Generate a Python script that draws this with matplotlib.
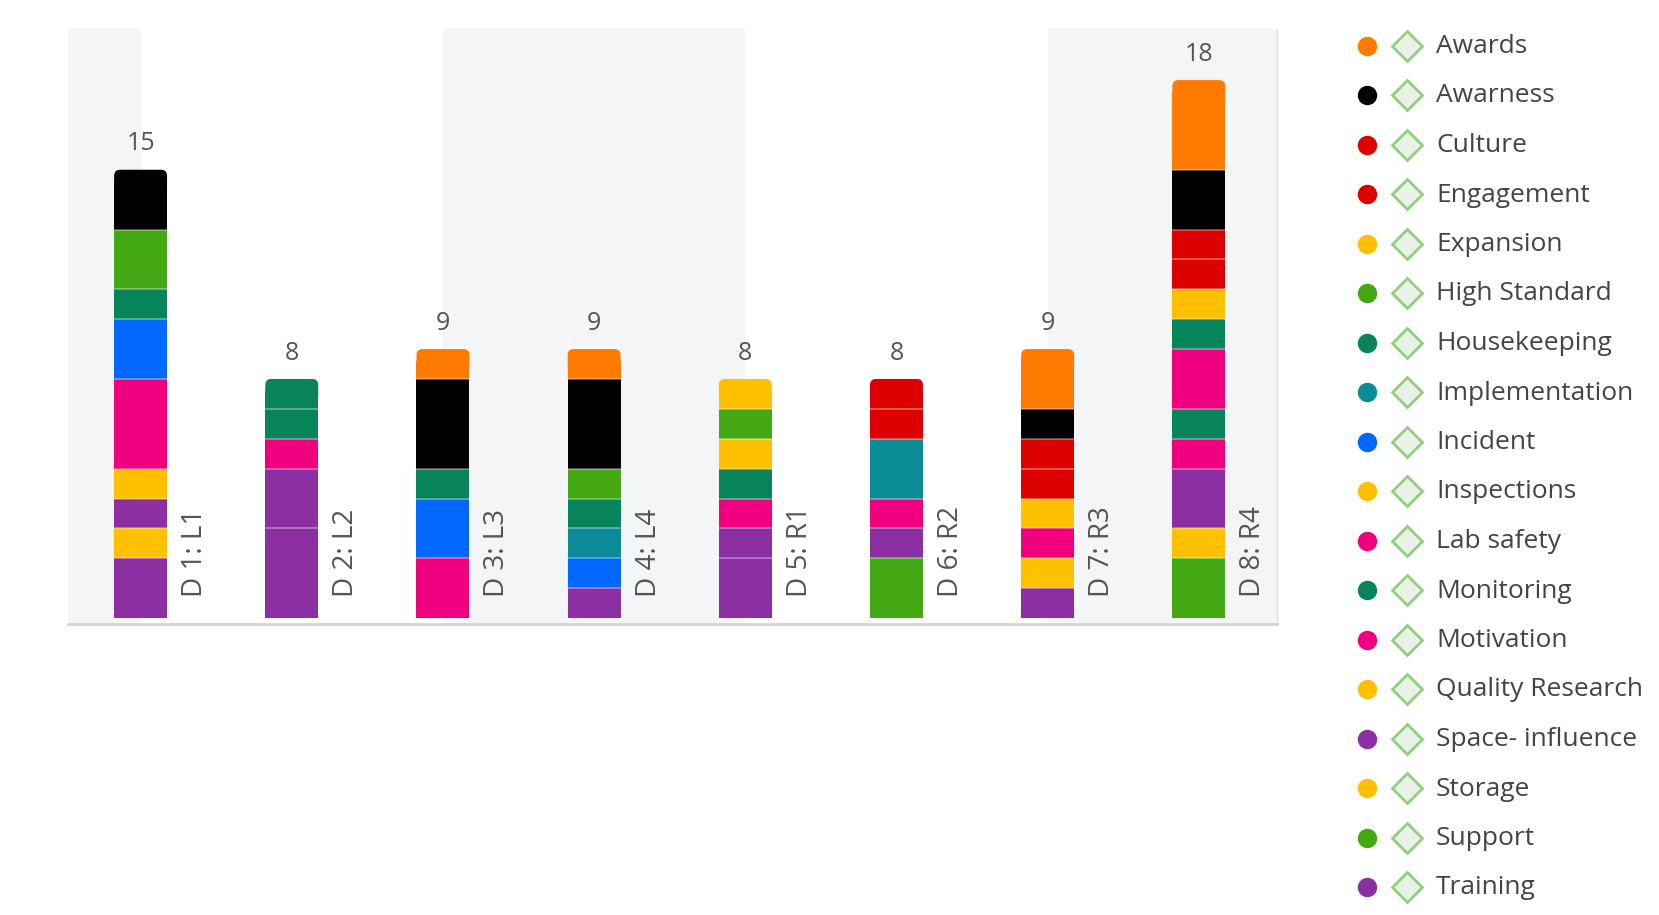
import matplotlib.pyplot as plt
from matplotlib.patches import FancyBboxPatch

# bar labels (D1..D8)
bars = ["D 1: L1", "D 2: L2", "D 3: L3", "D 4: L4", "D 5: R1", "D 6: R2", "D 7: R3", "D 8: R4"]

# codes per bar (top of stack = first code)
awards = [0, 0, 1, 1, 0, 0, 2, 3]
awarness = [2, 0, 3, 3, 0, 0, 1, 2]
culture = [0, 0, 0, 0, 0, 1, 1, 1]
engagement = [0, 0, 0, 0, 0, 1, 1, 1]
expansion = [0, 0, 0, 0, 1, 0, 1, 1]
high_standard = [2, 0, 0, 1, 1, 0, 0, 0]
housekeeping = [1, 1, 1, 1, 0, 0, 0, 1]
implementation = [0, 0, 0, 1, 0, 2, 0, 0]
incident = [2, 0, 2, 1, 0, 0, 0, 0]
inspections = [0, 0, 0, 0, 1, 0, 0, 0]
lab_safety = [3, 0, 2, 0, 0, 1, 1, 2]
monitoring = [0, 1, 0, 0, 1, 0, 0, 1]
motivation = [0, 1, 0, 0, 1, 0, 0, 1]
quality_research = [1, 0, 0, 0, 0, 0, 1, 0]
space_influence = [1, 2, 0, 0, 1, 1, 0, 2]
storage = [1, 0, 0, 0, 0, 0, 0, 1]
support = [0, 0, 0, 0, 0, 2, 0, 2]
training = [2, 3, 0, 1, 2, 0, 1, 0]

codes = ["Awards", "Awarness", "Culture", "Engagement", "Expansion", "High Standard",
         "Housekeeping", "Implementation", "Incident", "Inspections", "Lab safety",
         "Monitoring", "Motivation", "Quality Research", "Space- influence", "Storage",
         "Support", "Training"]
series = [awards, awarness, culture, engagement, expansion, high_standard, housekeeping,
          implementation, incident, inspections, lab_safety, monitoring, motivation,
          quality_research, space_influence, storage, support, training]

# colours
orange, black, red = "#ff7b00", "#000000", "#dc0000"
yellow, green, dgreen = "#ffc000", "#43a814", "#07845a"
teal, blue, pink, purple = "#0b8b95", "#0068ff", "#f0007f", "#8c2fa3"
colors = [orange, black, red, red, yellow, green, dgreen, teal, blue, yellow,
          pink, dgreen, pink, yellow, purple, yellow, green, purple]

plt.rcParams["font.family"] = ["Open Sans", "DejaVu Sans"]
fig = plt.figure(figsize=(16.59, 9.15), dpi=100)
ax = fig.add_axes([0.041, 0.318, 0.729, 0.650])

n = len(bars)
xs = list(range(n))
width = 0.35
totals = [sum(s[i] for s in series) for i in range(n)]

# alternating background bands
ax.axvspan(-0.48, 0, color="#f4f5f7", zorder=0, lw=0)
ax.axvspan(2, 4, color="#f4f5f7", zorder=0, lw=0)
ax.axvspan(6, 7.52, color="#f4f5f7", zorder=0, lw=0)

# stack from the bottom: last code sits lowest
bottoms = [0] * n
for s, c in zip(reversed(series), reversed(colors)):
    for i in xs:
        if s[i] == 0:
            continue
        top = bottoms[i] + s[i]
        if top == totals[i]:
            # top segment: rounded top corners
            ax.bar(i, s[i] - 0.4, width, bottom=bottoms[i], color=c, lw=0, zorder=2)
            box = FancyBboxPatch((i - width / 2, top - 0.8), width, 0.8,
                                 boxstyle="round,pad=0,rounding_size=0.04",
                                 mutation_aspect=5.0, facecolor=c, edgecolor="none",
                                 zorder=1.9)
            ax.add_patch(box)
        else:
            ax.bar(i, s[i], width, bottom=bottoms[i], color=c, lw=0, zorder=2)
            ax.hlines(top, i - width / 2, i + width / 2, color=(1, 1, 1, 0.35),
                      lw=1.3, zorder=3)
        bottoms[i] = top

for i in xs:
    ax.text(i, totals[i] + 0.45, str(totals[i]), ha="center", va="bottom",
            fontsize=18, color="#555555")
    ax.text(i + 0.36, 0.7, bars[i], rotation=90, ha="center", va="bottom",
            fontsize=20, color="#555555")

ax.set_xlim(-0.48, 7.52)
ax.set_ylim(-0.2, 19.7)
ax.set_xticks([])
ax.set_yticks([])
for side in ["top", "left"]:
    ax.spines[side].set_visible(False)
ax.spines["right"].set_color("#dddddd")
ax.spines["bottom"].set_color("#d4d4d4")
ax.spines["bottom"].set_linewidth(2)

# legend drawn in pixel coordinates on an overlay
lg = fig.add_axes([0, 0, 1, 1])
lg.set_xlim(0, 1659)
lg.set_ylim(915, 0)
lg.axis("off")
for k, (name, c) in enumerate(zip(codes, colors)):
    y = 45.5 + k * 49.5
    lg.plot(1367, y, "o", ms=14, color=c, mec="none")
    lg.plot(1407, y, "D", ms=15, mfc="#e9f2e6", mec="#8fcf7e", mew=2)
    lg.text(1436, y + 1, name, va="center", ha="left", fontsize=19, color="#444444")

fig.savefig("out.png", dpi=100)
